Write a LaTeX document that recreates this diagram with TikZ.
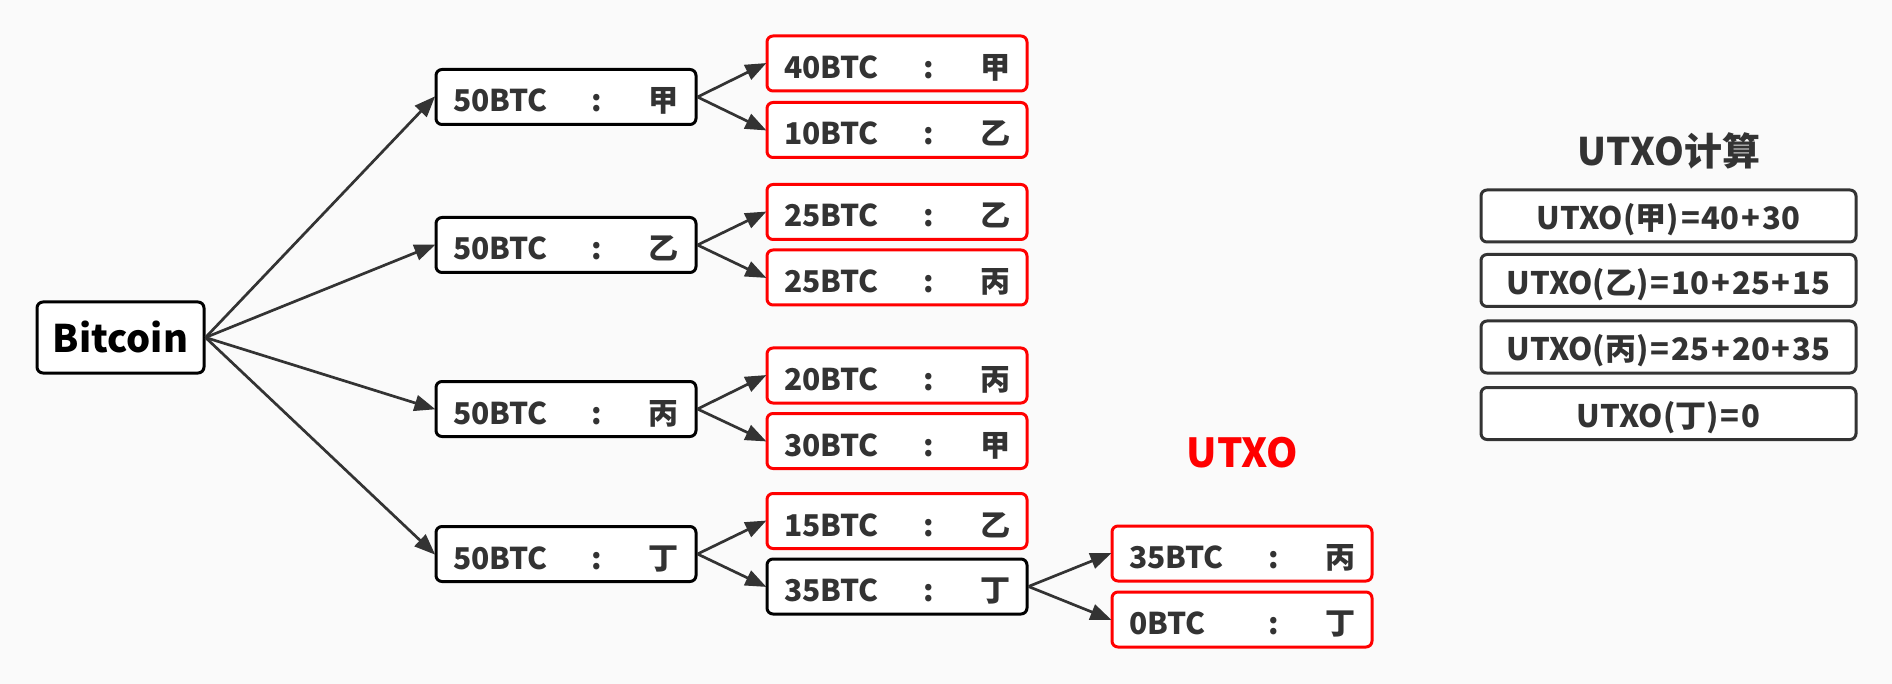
\documentclass[tikz,border=0pt]{standalone}
\usepackage{fontspec}
\setmainfont{Noto Sans CJK SC}
\usetikzlibrary{arrows.meta}
\definecolor{txt}{HTML}{333333}
\definecolor{bg}{HTML}{FAFAFA}
\definecolor{redb}{HTML}{FF0000}
\tikzset{
  base/.style={rounded corners=6pt, line width=3pt, fill=white, text=txt,
    font=\fontsize{30}{34}\selectfont\bfseries, inner ysep=0pt, inner xsep=17pt,
    text height=30pt, text depth=0pt, align=left},
  blk/.style={base, draw=black},
  redbox/.style={base, draw=redb},
  wide/.style={text width=226pt, minimum height=55pt},
  calc/.style={rounded corners=6pt, line width=3pt, fill=white, draw=txt, text=txt,
    font=\fontsize{31}{34}\selectfont\bfseries, minimum width=375pt, minimum height=52pt,
    inner sep=0pt, text height=28pt, text depth=0pt},
  arr/.style={draw=txt, line width=2.7pt, -{Triangle[length=21pt,width=16pt]}, shorten >=-1pt}
}
\newcommand{\bt}[2]{\makebox[139pt][l]{#1}:\hfill #2\hspace{12pt}}
\newcommand{\op}[1]{\hspace{2pt}#1\hspace{2pt}}
\begin{document}
\begin{tikzpicture}[x=1pt,y=-1pt]
\fill[bg] (0,0) rectangle (1892,684);
\useasboundingbox (0,0) rectangle (1892,684);
% root
\node[base, draw=black, text=black, font=\fontsize{38}{42}\selectfont\bfseries,
  minimum width=167pt, minimum height=71pt, inner sep=0pt, text height=30pt] (btc) at (120.5,337.5) {Bitcoin};
% level 2
\node[blk, wide] (a) at (566,97) {\bt{50BTC}{甲}};
\node[blk, wide] (b) at (566,245) {\bt{50BTC}{乙}};
\node[blk, wide] (c) at (566,409) {\bt{50BTC}{丙}};
\node[blk, wide] (d) at (566,554) {\bt{50BTC}{丁}};
% level 3
\node[redbox, wide] (a1) at (897,63.5) {\bt{40BTC}{甲}};
\node[redbox, wide] (a2) at (897,130) {\bt{10BTC}{乙}};
\node[redbox, wide] (b1) at (897,212) {\bt{25BTC}{乙}};
\node[redbox, wide] (b2) at (897,277.5) {\bt{25BTC}{丙}};
\node[redbox, wide] (c1) at (897,375.5) {\bt{20BTC}{丙}};
\node[redbox, wide] (c2) at (897,441) {\bt{30BTC}{甲}};
\node[redbox, wide] (d1) at (897,521) {\bt{15BTC}{乙}};
\node[blk, wide] (d2) at (897,586.5) {\bt{35BTC}{丁}};
% level 4
\node[redbox, wide] (e1) at (1242,553.5) {\bt{35BTC}{丙}};
\node[redbox, wide] (e2) at (1242,619.5) {\bt{0BTC}{丁}};
% label
\node[anchor=base, text=redb, font=\fontsize{40}{44}\selectfont\bfseries, inner sep=0pt] (lbl) at (1242.5,467) {UTXO};
% arrows
\foreach \t in {a,b,c,d} \draw[arr] (btc.east) -- (\t.west);
\draw[arr] (a.east) -- (a1.west);
\draw[arr] (a.east) -- (a2.west);
\draw[arr] (b.east) -- (b1.west);
\draw[arr] (b.east) -- (b2.west);
\draw[arr] (c.east) -- (c1.west);
\draw[arr] (c.east) -- (c2.west);
\draw[arr] (d.east) -- (d1.west);
\draw[arr] (d.east) -- (d2.west);
\draw[arr] (d2.east) -- (e1.west);
\draw[arr] (d2.east) -- (e2.west);
% right panel
\node[anchor=base, text=txt, font=\fontsize{38}{42}\selectfont\bfseries, inner sep=0pt] (ttl) at (1669,166) {UTXO计算};
\node[calc] (u1) at (1668.5,216) {UTXO(甲)\op{=}40\op{+}30};
\node[calc] (u2) at (1668.5,280.5) {UTXO(乙)\op{=}10\op{+}25\op{+}15};
\node[calc] (u3) at (1668.5,347) {UTXO(丙)\op{=}25\op{+}20\op{+}35};
\node[calc] (u4) at (1668.5,413.5) {UTXO(丁)\op{=}0};
\end{tikzpicture}
\end{document}
